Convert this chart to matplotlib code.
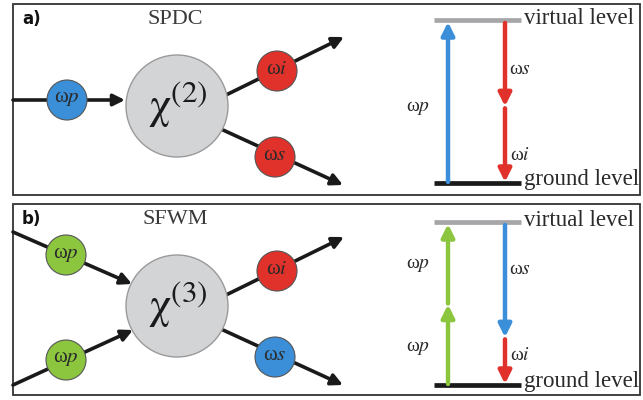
import matplotlib.pyplot as plt
from matplotlib.patches import Circle, Rectangle

plt.rcParams['mathtext.fontset'] = 'stix'

# datos de los dos paneles
panel_labels = ['a)', 'b)']
process_names = ['SPDC', 'SFWM']
chi_orders = ['2', '3']
input_colors = [['#3b8ed8'], ['#8cc63f', '#8cc63f']]
input_names = [['p'], ['p', 'p']]
output_colors = [['#e1312b', '#e1312b'], ['#e1312b', '#3b8ed8']]
output_names = [['i', 's'], ['i', 's']]

# transiciones (nivel inicial, nivel final) como fraccion ground->virtual
up_steps = [[(0.0, 1.0)], [(0.0, 0.5), (0.5, 1.0)]]
up_colors = [['#3b8ed8'], ['#8cc63f', '#8cc63f']]
up_names = [['p'], ['p', 'p']]
down_steps = [[(1.0, 0.47), (0.47, 0.0)], [(1.0, 0.29), (0.29, 0.0)]]
down_colors = [['#e1312b', '#e1312b'], ['#3b8ed8', '#e1312b']]
down_names = [['s', 'i'], ['s', 'i']]

fig = plt.figure(figsize=(6.43, 4.00), dpi=100)
ax = fig.add_axes([0, 0, 1, 1])
ax.set_xlim(0, 643)
ax.set_ylim(400, 0)
ax.axis('off')

txt = '#2a2a2a'


def omega(x, y, sub, size=14, ha='center'):
    ax.text(x, y, r'ω$\mathit{' + sub + '}$', fontsize=size, family='Liberation Serif',
            color=txt, ha=ha, va='center', zorder=6)


def arrow(x0, y0, x1, y1, color='#1a1a1a', lw=2.6, ms=17, z=2):
    ax.annotate('', xy=(x1, y1), xytext=(x0, y0),
                arrowprops=dict(arrowstyle='-|>', color=color, lw=lw,
                                mutation_scale=ms, shrinkA=0, shrinkB=0),
                zorder=z)


def dot(x, y, color, sub):
    ax.add_patch(Circle((x, y), 20, facecolor=color, edgecolor='#555555', lw=0.8, zorder=4))
    omega(x, y - 1, sub, size=15)


tops = [0, 200]
up_label_y = [[108], [265, 348]]
down_label_y = [[70, 155], [270, 355]]
for k in range(2):
    y0 = tops[k]
    # marco
    ax.add_patch(Rectangle((13, y0 + 3.5), 627, 191, fill=False, edgecolor='#333333', lw=1.3))
    ax.text(22, y0 + 19, panel_labels[k], fontsize=12, fontweight='bold',
            family='DejaVu Sans', color='#111111', va='center')
    ax.text(175, y0 + 20, process_names[k], fontsize=16, family='Liberation Serif',
            color='#3a3a3a', ha='center', va='center')

    # cristal no lineal
    cy = y0 + 106
    ax.add_patch(Circle((177, cy), 51, facecolor='#d3d4d6', edgecolor='#9a9a9a', lw=1, zorder=3))
    ax.text(178, cy - 2, r'$\mathrm{\chi}^{(' + chi_orders[k] + ')}$', fontsize=32,
            color='#1a1a1a', ha='center', va='center', zorder=5)

    # entradas
    if len(input_names[k]) == 1:
        arrow(13, y0 + 100, 125, y0 + 100)
        dot(67, y0 + 100, input_colors[k][0], input_names[k][0])
    else:
        arrow(13, y0 + 32, 132, y0 + 84)
        arrow(13, y0 + 185, 133, y0 + 130)
        dot(66, y0 + 55, input_colors[k][0], input_names[k][0])
        dot(66, y0 + 160, input_colors[k][1], input_names[k][1])

    # salidas
    arrow(226, y0 + 95, 344, y0 + 37)
    arrow(223, y0 + 130, 343, y0 + 185)
    dot(277, y0 + 71, output_colors[k][0], output_names[k][0])
    dot(275, y0 + 157, output_colors[k][1], output_names[k][1])

    # diagrama de niveles
    yv = y0 + 20 + (2 if k else 0)
    yg = y0 + 183 + (2 if k else 0)
    ax.plot([434, 521], [yv, yv], color='#a6a6a8', lw=3.4, solid_capstyle='butt', zorder=2)
    ax.plot([434, 521], [yg, yg], color='#1a1a1a', lw=3.4, solid_capstyle='butt', zorder=2)
    ax.text(524, yv - 2, 'virtual level', fontsize=16.5, family='Liberation Serif',
            color=txt, ha='left', va='center')
    ax.text(524, yg - 3, 'ground level', fontsize=16.5, family='Liberation Serif',
            color=txt, ha='left', va='center')

    def lvl(f):
        return yg - f * (yg - yv - 2)

    for (a, b), c, n, ly in zip(up_steps[k], up_colors[k], up_names[k], up_label_y[k]):
        arrow(448, lvl(a) - 1, 448, lvl(b), color=c, lw=3.2, ms=19, z=3)
        omega(418, ly, n)
    for (a, b), c in zip(down_steps[k], down_colors[k]):
        arrow(505, lvl(a) + 1, 505, lvl(b) - 1, color=c, lw=3.2, ms=19, z=3)
    for n, ly in zip(down_names[k], down_label_y[k]):
        omega(520, ly, n)

fig.savefig('out.png', dpi=100)
